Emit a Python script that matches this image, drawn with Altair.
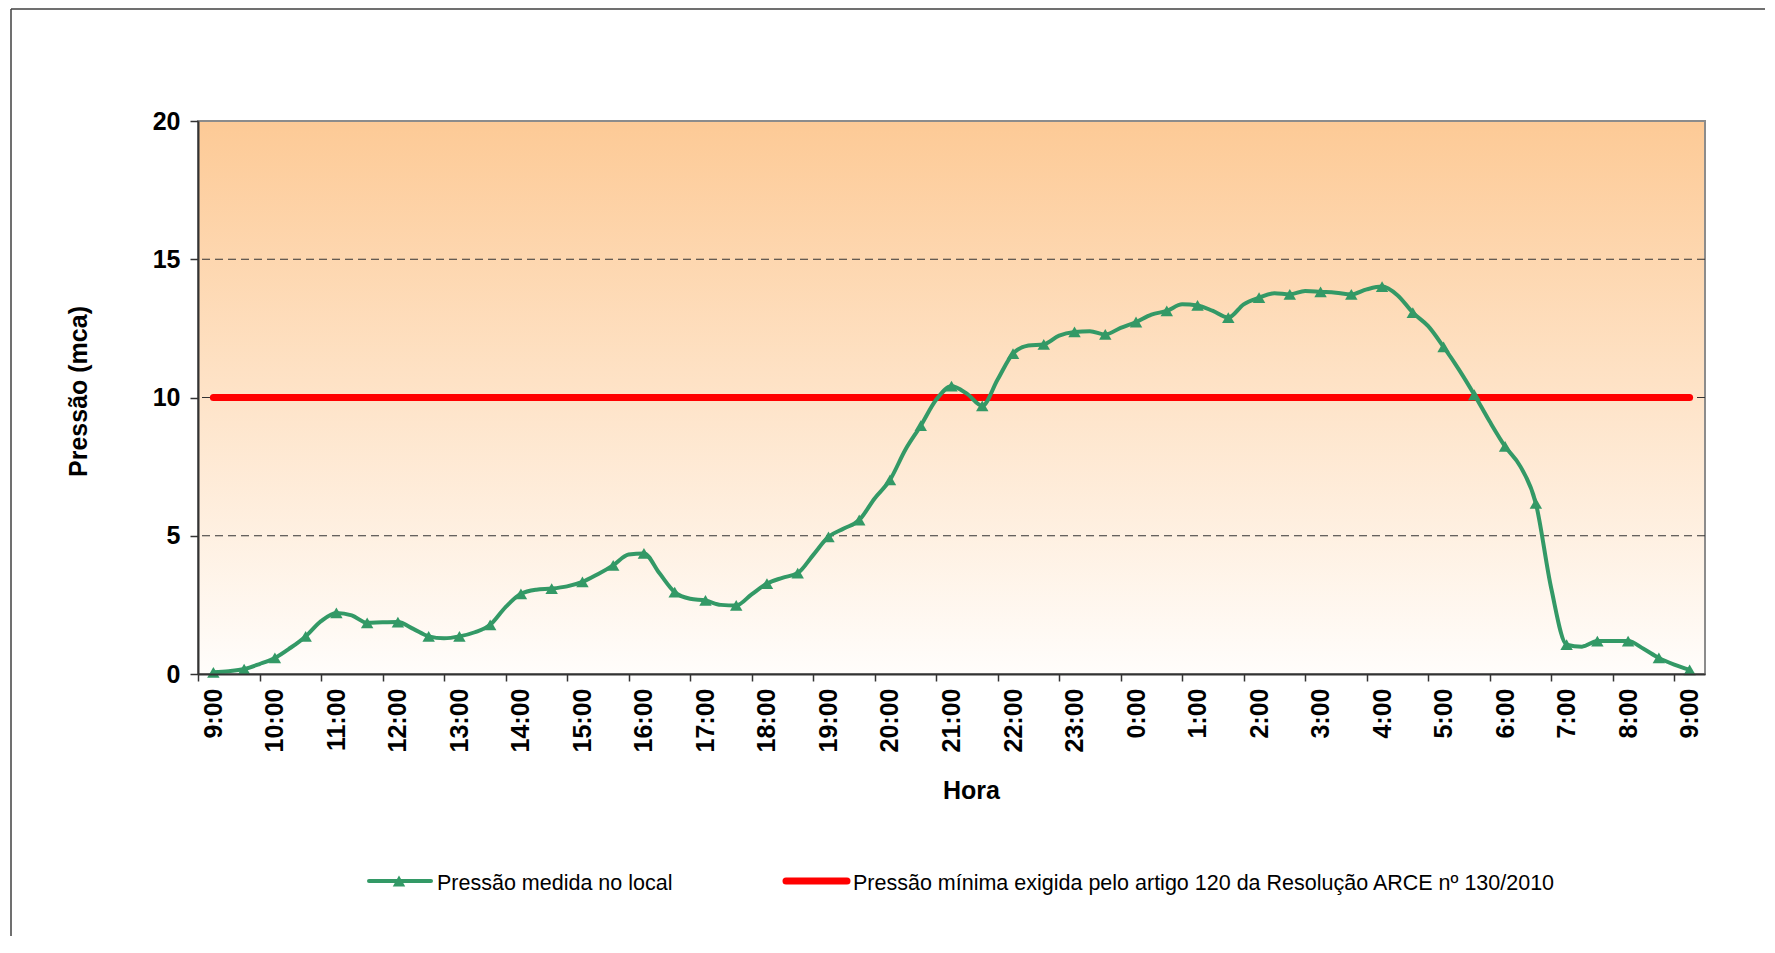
import json
import altair as alt
import pandas as pd

# ---------------- data ----------------
hour_labels = ["9:00", "10:00", "11:00", "12:00", "13:00", "14:00", "15:00", "16:00",
               "17:00", "18:00", "19:00", "20:00", "21:00", "22:00", "23:00", "0:00",
               "1:00", "2:00", "3:00", "4:00", "5:00", "6:00", "7:00", "8:00", "9:00"]

# pressure (mca) every half hour from 9:00 to 9:00 of the next day (points with markers)
marked_values = [0.06, 0.18, 0.58, 1.36, 2.21, 1.85, 1.88, 1.36, 1.36, 1.78,
                 2.90, 3.09, 3.33, 3.93, 4.36, 2.96, 2.66, 2.48, 3.27, 3.65,
                 4.96, 5.57, 7.02, 8.98, 10.41, 9.70, 11.59, 11.92, 12.37, 12.28,
                 12.73, 13.13, 13.33, 12.89, 13.61, 13.73, 13.82, 13.73, 14.01, 13.07,
                 11.83, 10.10, 8.23, 6.17, 1.06, 1.19, 1.19, 0.58, 0.15]

# readings at the quarter hours in between (no marker drawn)
between_values = [0.10, 0.36, 0.94, 1.91, 2.12, 1.87, 1.63, 1.29, 1.51, 2.42,
                  3.05, 3.17, 3.61, 4.32, 3.65, 2.72, 2.50, 2.88, 3.48, 4.30,
                  5.26, 6.35, 8.11, 9.92, 10.14, 10.65, 11.88, 12.24, 12.40, 12.52,
                  13.00, 13.37, 13.13, 13.37, 13.77, 13.85, 13.79, 13.91, 13.70, 12.58,
                  11.01, 9.13, 7.50, 3.10, 0.99, 1.19, 0.91, 0.34]

series_names = ["Pressão medida no local",
                "Pressão mínima exigida pelo artigo 120 da Resolução ARCE nº 130/2010"]
series_colors = ["#339966", "#FF0000"]

limit_t = [0, 48]
limit_values = [10, 10]

grid_values = [5, 10, 15]
y_tick_values = [0, 5, 10, 15, 20]

# ---------------- tables ----------------
rows = []
for i, v in enumerate(marked_values):
    rows.append({"t": float(i), "v": v, "marked": True, "series": series_names[0]})
for i, v in enumerate(between_values):
    rows.append({"t": i + 0.5, "v": v, "marked": False, "series": series_names[0]})
measured = pd.DataFrame(rows).sort_values("t").reset_index(drop=True)
marked_df = measured[measured["marked"]]

limit_df = pd.DataFrame({"t": limit_t, "v": limit_values, "series": series_names[1]})
grid_df = pd.DataFrame({"g": grid_values})
one = pd.DataFrame({"k": [0]})

# ---------------- layout ----------------
W, H = 1507, 553
half_cat = W / 49 / 2
FONT = "Liberation Sans"

xscale = alt.Scale(domain=[-0.5, 48.5], nice=False, zero=False)
yscale = alt.Scale(domain=[0, 20], nice=False, zero=False)

x_axis = alt.Axis(
    values=list(range(0, 49, 2)),
    labelExpr=f"{json.dumps(hour_labels, ensure_ascii=False)}[datum.value / 2]",
    labelAngle=-90, labelAlign="right", labelBaseline="middle",
    labelFont=FONT, labelFontWeight="bold", labelFontSize=25, labelColor="black",
    labelPadding=7, labelFlush=False, labelOverlap=False,
    tickSize=7, tickColor="#333333", tickWidth=1.5,
    tickOffset=-half_cat, labelOffset=half_cat,
    domainColor="#333333", domainWidth=2, grid=False,
    title="Hora", titleFont=FONT, titleFontSize=25, titleFontWeight="bold",
    titleColor="black", titleX=773, titleY=116, titleAngle=0,
    titleAlign="center", titleBaseline="middle", zindex=1,
)
y_axis = alt.Axis(
    values=y_tick_values, format="d",
    labelFont=FONT, labelFontWeight="bold", labelFontSize=25, labelColor="black",
    labelPadding=10, labelFlush=False,
    tickSize=8, tickColor="#333333", tickWidth=1.5,
    domainColor="#333333", domainWidth=2, grid=False,
    title="Pressão (mca)", titleFont=FONT, titleFontSize=25, titleFontWeight="bold",
    titleColor="black", titleX=-120, titleY=270, titleAngle=-90,
    titleAlign="center", titleBaseline="middle", zindex=1,
)

color_scale = alt.Scale(domain=series_names, range=series_colors)

gradient = alt.LinearGradient(
    gradient="linear",
    stops=[alt.GradientStop(color="#FDCA96", offset=0),
           alt.GradientStop(color="#FFFDFB", offset=1)],
    x1=0, x2=0, y1=0, y2=1,
)

background = alt.Chart(one).mark_rect(fill=gradient, stroke="#8C8C8C", strokeWidth=2).encode(
    x=alt.value(0), x2=alt.value(W), y=alt.value(0), y2=alt.value(H)
)

grid = alt.Chart(grid_df).mark_rule(color="#333333", strokeWidth=1, strokeDash=[8, 5]).encode(
    y=alt.Y("g:Q", scale=yscale, axis=y_axis)
)

limit_line = alt.Chart(limit_df).mark_line(strokeWidth=7, strokeCap="round").encode(
    x=alt.X("t:Q", scale=xscale, axis=x_axis),
    y=alt.Y("v:Q", scale=yscale, axis=y_axis),
    color=alt.Color("series:N", scale=color_scale, legend=None),
)

measured_line = alt.Chart(measured).mark_line(strokeWidth=4, interpolate="monotone").encode(
    x=alt.X("t:Q", scale=xscale, axis=x_axis),
    y=alt.Y("v:Q", scale=yscale, axis=y_axis),
    color=alt.Color("series:N", scale=color_scale, legend=None),
)

markers = alt.Chart(marked_df).mark_point(
    shape="triangle-up", filled=True, size=155, opacity=1, color=series_colors[0]
).encode(
    x=alt.X("t:Q", scale=xscale, axis=x_axis),
    y=alt.Y("v:Q", scale=yscale, axis=y_axis),
)

# frame of the whole chart (left and top edges)
frame_left = alt.Chart(one).mark_rule(color="#404040", strokeWidth=1.5).encode(
    x=alt.value(-187), y=alt.value(-112), y2=alt.value(H + 320)
)
frame_top = alt.Chart(one).mark_rule(color="#404040", strokeWidth=1.5).encode(
    x=alt.value(-187), x2=alt.value(W + 120), y=alt.value(-112)
)

# legend
LEG_Y = 760
leg_green_line = alt.Chart(one).mark_rule(color=series_colors[0], strokeWidth=4, strokeCap="round").encode(
    x=alt.value(171), x2=alt.value(233), y=alt.value(LEG_Y)
)
leg_green_mark = alt.Chart(one).mark_point(
    shape="triangle-up", filled=True, size=155, opacity=1, color=series_colors[0]
).encode(x=alt.value(201), y=alt.value(LEG_Y))
leg_green_text = alt.Chart(one).mark_text(
    text=series_names[0], align="left", baseline="alphabetic",
    font=FONT, fontSize=21.5, color="black"
).encode(x=alt.value(239), y=alt.value(769))
leg_red_line = alt.Chart(one).mark_rule(color=series_colors[1], strokeWidth=7, strokeCap="round").encode(
    x=alt.value(588), x2=alt.value(649), y=alt.value(LEG_Y)
)
leg_red_text = alt.Chart(one).mark_text(
    text=series_names[1], align="left", baseline="alphabetic",
    font=FONT, fontSize=21.5, color="black"
).encode(x=alt.value(655), y=alt.value(769))

chart = alt.layer(
    background, grid, limit_line, measured_line, markers,
    frame_left, frame_top,
    leg_green_line, leg_green_mark, leg_green_text, leg_red_line, leg_red_text,
).properties(
    width=W, height=H,
    autosize=alt.AutoSizeParams(type="none"),
    padding={"left": 190, "top": 113, "right": 60, "bottom": 262},
    background="white",
).configure_view(stroke=None)

chart.save("out.html", embed_options={"renderer": "svg", "actions": False})
